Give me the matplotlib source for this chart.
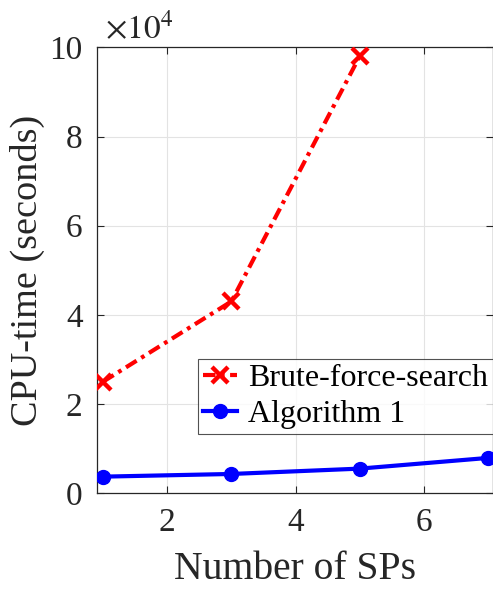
import matplotlib
matplotlib.use("Agg")
import matplotlib.pyplot as plt
from matplotlib.ticker import FuncFormatter

plt.rcParams['font.family'] = ['Liberation Serif', 'DejaVu Serif']
plt.rcParams['mathtext.fontset'] = 'stix'

# CPU time (seconds) versus number of SPs
sps_brute = [1, 3, 5]
cpu_brute = [25000, 43000, 98000]
sps_alg = [1, 3, 5, 7]
cpu_alg = [3700, 4300, 5500, 7900]

x_ticks = [2, 4, 6]
y_ticks = [0, 20000, 40000, 60000, 80000, 100000]

fig = plt.figure(figsize=(4.93, 5.92), dpi=100)
ax = fig.add_axes([0.196, 0.167, 0.803, 0.753])

text_col = '#262626'
ax.plot(sps_brute, cpu_brute, color='red', lw=3.0,
        linestyle=(0, (3.0, 1.3, 0.9, 1.3)), marker='x', markersize=12,
        markeredgewidth=3.2, label='Brute-force-search', zorder=3)
ax.plot(sps_alg, cpu_alg, color='blue', lw=3.0, marker='o', markersize=10,
        label='Algorithm 1', zorder=3)

ax.set_xlim(0.9, 7.07)
ax.set_ylim(0, 100000)
ax.set_xticks(x_ticks)
ax.set_yticks(y_ticks)
ax.yaxis.set_major_formatter(FuncFormatter(lambda v, p: f"{v/1e4:g}"))
ax.tick_params(direction='in', length=5, width=0.8, colors=text_col,
               labelsize=24, top=True, right=True, pad=10)
ax.grid(True, color='#e3e3e3', lw=0.8, zorder=0)
ax.set_axisbelow(True)
for s in ax.spines.values():
    s.set_color(text_col)
    s.set_linewidth(0.9)

ax.set_xlabel('Number of SPs', fontsize=28.5, color=text_col, labelpad=10)
ax.set_ylabel('CPU-time (seconds)', fontsize=27.5, color=text_col, labelpad=3)
ax.text(0.02, 1.005, r'$\times10^4$', transform=ax.transAxes, fontsize=24,
        color=text_col, ha='left', va='bottom')

leg = ax.legend(loc='lower right', bbox_to_anchor=(1.0, 0.133), fontsize=23,
                frameon=True, fancybox=False, edgecolor=text_col,
                handlelength=1.05, handletextpad=0.35, borderpad=0.15,
                labelspacing=0.2, borderaxespad=0.0)
leg.get_frame().set_linewidth(0.8)

fig.savefig('out.png', dpi=100)
